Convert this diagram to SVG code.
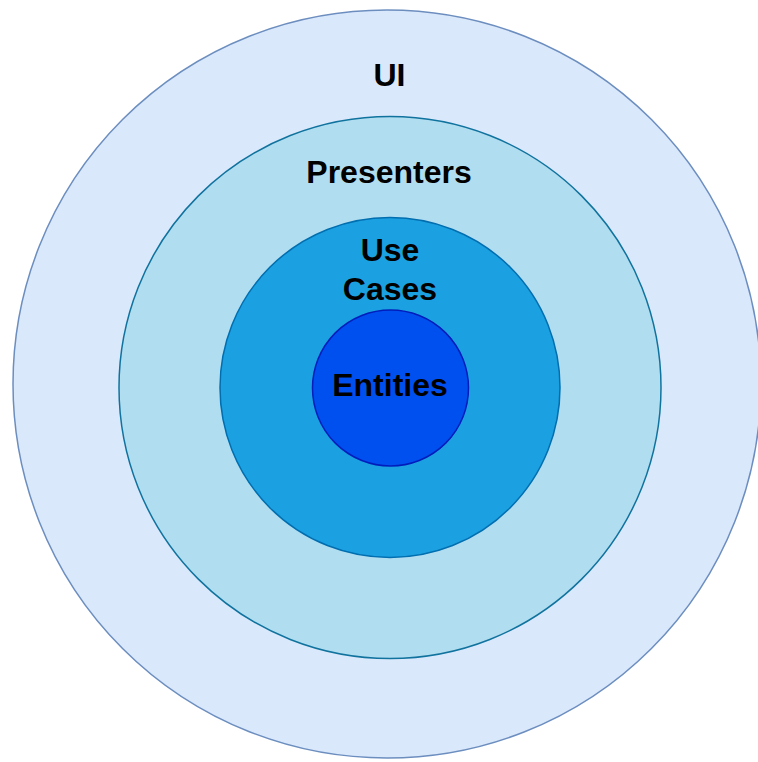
<svg xmlns="http://www.w3.org/2000/svg" width="758" height="762" viewBox="0 0 758 762">
  <style>
    .ring { stroke-width: 1.5; }
    .label { font-family: "Liberation Sans", Arial, sans-serif; font-size: 32px; font-weight: bold; fill: #000; text-anchor: middle; }
  </style>
  <rect width="758" height="762" fill="#ffffff"/>
  <g id="ui">
    <circle class="ring" cx="387" cy="384" r="374" fill="#dae8fc" stroke="#6c8ebf"/>
    <text class="label" x="389.5" y="86">UI</text>
  </g>
  <g id="presenters">
    <circle class="ring" cx="390" cy="387.5" r="271" fill="#b1ddf0" stroke="#10739e"/>
    <text class="label" x="389" y="183">Presenters</text>
  </g>
  <g id="use-cases">
    <circle class="ring" cx="390" cy="387.5" r="170" fill="#1ba1e2" stroke="#006eaf"/>
    <text class="label" x="390" y="261">Use</text>
    <text class="label" x="390" y="300">Cases</text>
  </g>
  <g id="entities">
    <circle class="ring" cx="390.5" cy="388" r="78" fill="#0050ef" stroke="#001dbc"/>
    <text class="label" x="390" y="396">Entities</text>
  </g>
  <g id="connectors"/>
</svg>
